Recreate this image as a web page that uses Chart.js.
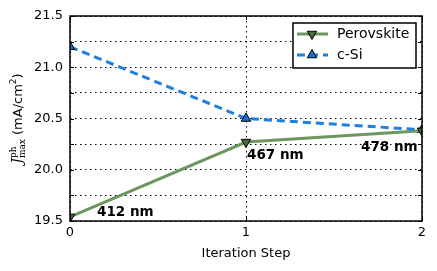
<!DOCTYPE html>
<html>
<head>
<meta charset="utf-8">
<script src="https://cdn.jsdelivr.net/npm/chart.js@4/dist/chart.umd.min.js"></script>
<style>
  html, body { margin: 0; padding: 0; background: #fff; }
  #wrap { width: 437px; height: 271px; }
</style>
</head>
<body>
<div id="wrap"><canvas id="jphChart" width="437" height="271"></canvas></div>
<script>

const steps = [0, 1, 2];

const perovskite = [19.54, 20.27, 20.38];

const cSi = [21.2, 20.5, 20.39];

const thickness = ["412 nm", "467 nm", "478 nm"];

const seriesNames = ["Perovskite", "c-Si"];

const GREEN = "#6c985f";
const GREEN_DARK = "#476b3d";
const BLUE = "#1f7fe0";
const BLUE_MARK = "#1a6fd6";
const FONT = "'DejaVu Sans', sans-serif";

// pixel offsets of the thickness labels from their points (left x, middle y)
const labelOffsets = [[27, -4], [1, 13], [-61, 17]];

function tri(ctx, x, y, r, down) {
    const s = down ? -1 : 1;
    ctx.beginPath();
    ctx.moveTo(x, y - s * r);
    ctx.lineTo(x + r * 0.866, y + s * r * 0.5);
    ctx.lineTo(x - r * 0.866, y + s * r * 0.5);
    ctx.closePath();
    ctx.fill();
    ctx.stroke();
}

const extras = {
    id: "extras",
    afterDatasetsDraw(chart) {
        const ctx = chart.ctx;
        const a = chart.chartArea;
        const xs = chart.scales.x;
        const ys = chart.scales.y;

        ctx.save();

        // inward ticks
        ctx.strokeStyle = "#000";
        ctx.lineWidth = 1;
        ctx.beginPath();
        for (let v = 19.5; v <= 21.5 + 1e-9; v += 0.25) {
            const py = Math.round(ys.getPixelForValue(v)) + 0.5;
            ctx.moveTo(a.left, py); ctx.lineTo(a.left + 4, py);
            ctx.moveTo(a.right, py); ctx.lineTo(a.right - 4, py);
        }
        steps.forEach(s => {
            const px = Math.round(xs.getPixelForValue(s)) + 0.5;
            ctx.moveTo(px, a.bottom); ctx.lineTo(px, a.bottom - 4);
            ctx.moveTo(px, a.top); ctx.lineTo(px, a.top + 4);
        });
        ctx.stroke();

        // frame
        ctx.lineWidth = 1.5;
        ctx.strokeRect(a.left, a.top, a.right - a.left, a.bottom - a.top);

        // thickness labels
        ctx.fillStyle = "#000";
        ctx.font = "bold 13.5px " + FONT;
        ctx.textBaseline = "middle";
        ctx.textAlign = "left";
        thickness.forEach((t, i) => {
            const px = xs.getPixelForValue(steps[i]);
            const py = ys.getPixelForValue(perovskite[i]);
            ctx.fillText(t, px + labelOffsets[i][0], py + labelOffsets[i][1]);
        });

        // legend
        const lx = 293, ly = 23, lw = 123, lh = 45;
        ctx.fillStyle = "#fff";
        ctx.fillRect(lx, ly, lw, lh);
        ctx.lineWidth = 1.5;
        ctx.strokeStyle = "#000";
        ctx.strokeRect(lx, ly, lw, lh);

        const rows = [
            { y: 34, color: GREEN, dash: [], fill: GREEN_DARK, down: true },
            { y: 55, color: BLUE, dash: [8, 5], fill: BLUE_MARK, down: false }
        ];
        rows.forEach((r, i) => {
            ctx.strokeStyle = r.color;
            ctx.lineWidth = 3;
            ctx.setLineDash(r.dash);
            ctx.beginPath();
            ctx.moveTo(297, r.y); ctx.lineTo(328, r.y);
            ctx.stroke();
            ctx.setLineDash([]);
            ctx.fillStyle = r.fill;
            ctx.strokeStyle = "#000";
            ctx.lineWidth = 1;
            tri(ctx, 312, r.y, 5.5, r.down);
            ctx.fillStyle = "#000";
            ctx.font = "14px " + FONT;
            ctx.textAlign = "left";
            ctx.textBaseline = "middle";
            ctx.fillText(seriesNames[i], 337, r.y);
        });

        // y axis title: J^ph_max (mA/cm^2)
        ctx.translate(17, (a.top + a.bottom) / 2);
        ctx.rotate(-Math.PI / 2);
        ctx.fillStyle = "#000";
        ctx.textBaseline = "alphabetic";
        const parts = [
            { t: "J", f: "italic 14px 'DejaVu Serif', serif", dy: 0 },
            { t: "ph", f: "9px 'DejaVu Serif', serif", dy: -6 },
            { t: "max", f: "9px 'DejaVu Serif', serif", dy: 3 },
            { t: " (mA/cm", f: "13px " + FONT, dy: 0 },
            { t: "2", f: "9px " + FONT, dy: -6 },
            { t: ")", f: "13px " + FONT, dy: 0 }
        ];
        const widths = parts.map(p => {
            ctx.font = p.f;
            return ctx.measureText(p.t).width;
        });
        // superscript ph and subscript max are stacked
        const total = widths[0] + Math.max(widths[1], widths[2]) + widths[3] + widths[4] + widths[5];
        let cx = -total / 2;
        const base = 5;
        ctx.font = parts[0].f; ctx.fillText(parts[0].t, cx, base); cx += widths[0];
        ctx.font = parts[1].f; ctx.fillText(parts[1].t, cx, base + parts[1].dy);
        ctx.font = parts[2].f; ctx.fillText(parts[2].t, cx, base + parts[2].dy);
        cx += Math.max(widths[1], widths[2]);
        for (let i = 3; i < 6; i++) {
            ctx.font = parts[i].f;
            ctx.fillText(parts[i].t, cx, base + parts[i].dy);
            cx += widths[i];
        }

        ctx.restore();
    }
};

new Chart(

    document.getElementById("jphChart"),

    {

        type: "line",

        data: {

            datasets: [

                {
                    label: seriesNames[0],
                    data: steps.map((s, i) => ({ x: s, y: perovskite[i] })),
                    borderColor: GREEN,
                    borderWidth: 3,
                    pointStyle: "triangle",
                    rotation: 180,
                    pointRadius: 5.5,
                    pointBackgroundColor: GREEN_DARK,
                    pointBorderColor: "#000",
                    pointBorderWidth: 1,
                    tension: 0,
                    clip: 0
                },

                {
                    label: seriesNames[1],
                    data: steps.map((s, i) => ({ x: s, y: cSi[i] })),
                    borderColor: BLUE,
                    borderWidth: 3,
                    borderDash: [8, 5],
                    pointStyle: "triangle",
                    pointRadius: 5.5,
                    pointBackgroundColor: BLUE_MARK,
                    pointBorderColor: "#000",
                    pointBorderWidth: 1,
                    tension: 0,
                    clip: 0
                }

            ]

        },

        options: {

            responsive: false,
            animation: false,
            devicePixelRatio: 1,

            layout: {
                padding: { top: 16, right: 15, left: 0, bottom: 0 }
            },

            plugins: {
                legend: { display: false },
                tooltip: { enabled: false }
            },

            scales: {

                x: {
                    type: "linear",
                    min: 0,
                    max: 2,
                    afterFit: s => { s.height = 50; },
                    ticks: {
                        stepSize: 1,
                        color: "#000",
                        padding: 4,
                        font: { family: FONT, size: 13 }
                    },
                    grid: {
                        color: "#000",
                        lineWidth: 1,
                        drawTicks: false
                    },
                    border: { display: false, dash: [1.5, 3.5] },
                    title: {
                        display: true,
                        text: "Iteration Step",
                        color: "#000",
                        font: { family: FONT, size: 13 },
                        padding: { top: 6, bottom: 10 }
                    }
                },

                y: {
                    min: 19.5,
                    max: 21.5,
                    afterFit: s => { s.width = 70; },
                    ticks: {
                        stepSize: 0.25,
                        color: "#000",
                        padding: 7,
                        font: { family: FONT, size: 13 },
                        callback: v => (Math.abs(v * 2 - Math.round(v * 2)) < 1e-6 ? v.toFixed(1) : "")
                    },
                    grid: {
                        color: "#000",
                        lineWidth: 1,
                        drawTicks: false
                    },
                    border: { display: false, dash: [1.5, 3.5] }
                }

            }

        },

        plugins: [extras]

    }

);

</script>
</body>
</html>
